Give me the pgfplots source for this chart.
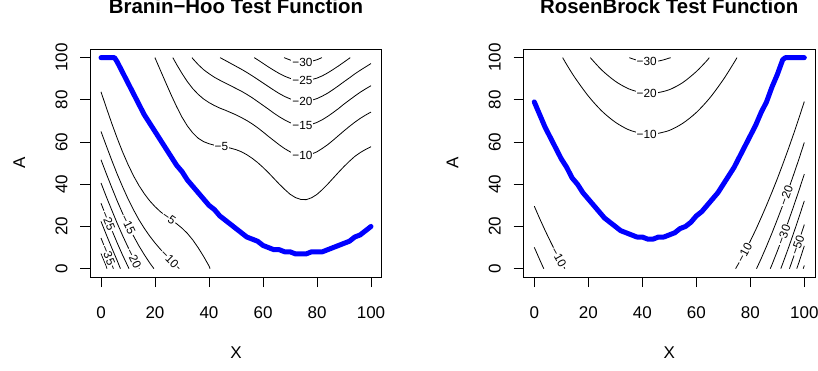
\documentclass[border=0pt]{standalone}
\usepackage{fontspec}
\setmainfont{Liberation Sans}
\usepackage{pgfplots}
\pgfplotsset{compat=1.18}
\newcommand{\lab}{\fontsize{11.8}{11.8}\selectfont}
\tikzset{ctl/.style={fill=white, inner sep=1pt, font=\lab}}
\pgfplotsset{
  rstyle/.style={
    scale only axis, width=291.6pt, height=227.9pt,
    xmin=-4, xmax=104, ymin=-4, ymax=104,
    xtick={0,20,40,60,80,100}, ytick={0,20,40,60,80,100},
    tick pos=left, tick align=outside, major tick length=10pt,
    tick style={black, line width=0.8pt},
    axis line style={line width=0.8pt},
    /pgf/number format/assume math mode=true,
    ticklabel style={font=\fontsize{17}{17}\selectfont},
    xticklabel style={anchor=base},
    yticklabel style={rotate=90, anchor=base},
    xticklabel shift=31.2pt, yticklabel shift=12.8pt,
    clip=false,
  },
  ct/.style={black, line width=0.8pt, mark=none},
  bl/.style={blue, line width=5pt, line cap=round, line join=round, mark=none},
}
\begin{document}
\begin{tikzpicture}
\useasboundingbox (0,0) rectangle (818pt,370pt);
% ---------------- Branin-Hoo ----------------
\begin{axis}[rstyle, at={(90.2pt,92.9pt)}, anchor=south west]
% upper contours
\addplot[ct] coordinates {(19.97,100)(22,94.0)(24,88.1)(26,82.3)(28,76.8)(30,71.8)(32,67.6)(34,64.3)(36,61.8)(38,60.2)(40,59.2)(42,58.5)(44,58.1)(46,57.7)(48,57.1)(50,56.4)(52,55.4)(54,54.0)(56,52.3)(58,50.3)(60,48.0)(62,45.5)(64,42.8)(66,40.1)(68,37.6)(70,35.3)(72,33.7)(74,32.8)(76,32.7)(78,33.6)(80,35.2)(82,37.5)(84,40.1)(86,42.9)(88,45.7)(90,48.4)(92,50.9)(94,53.2)(96,55.0)(98,56.5)(100,57.8)};
\addplot[ct] coordinates {(26.6,100)(28,96.8)(30,92.5)(32,88.6)(34,85.3)(36,82.6)(38,80.4)(40,78.7)(42,77.3)(44,76.1)(46,75.1)(48,74.0)(50,72.9)(52,71.6)(54,70.2)(56,68.6)(58,66.8)(60,64.8)(62,62.7)(64,60.7)(66,58.7)(68,56.9)(70,55.4)(72,54.3)(74,53.8)(76,53.8)(78,54.3)(80,55.4)(82,57.0)(84,58.8)(86,60.9)(88,63.1)(90,65.3)(92,67.4)(94,69.4)(96,71.2)(98,72.8)(100,74.2)};
\addplot[ct] coordinates {(33.7,100)(34,99.5)(36,96.7)(38,94.3)(40,92.4)(42,90.7)(44,89.3)(46,88.0)(48,86.7)(50,85.4)(52,84.1)(54,82.6)(56,81.0)(58,79.2)(60,77.4)(62,75.6)(64,73.7)(66,72.0)(68,70.5)(70,69.2)(72,68.4)(74,67.9)(76,67.9)(78,68.4)(80,69.3)(82,70.6)(84,72.2)(86,74.0)(88,75.9)(90,78.0)(92,79.9)(94,81.8)(96,83.6)(98,85.2)(100,86.7)};
\addplot[ct] coordinates {(44.1,100)(46,98.7)(48,97.3)(50,95.9)(52,94.5)(54,93.0)(56,91.4)(58,89.7)(60,88.0)(62,86.3)(64,84.6)(66,83.0)(68,81.6)(70,80.5)(72,79.7)(74,79.3)(76,79.3)(78,79.8)(80,80.6)(82,81.8)(84,83.2)(86,84.9)(88,86.7)(90,88.6)(92,90.4)(94,92.3)(96,94.0)(98,95.6)(100,97.2)};
\addplot[ct] coordinates {(56.75,100)(58,99.0)(60,97.3)(62,95.6)(64,94.0)(66,92.5)(68,91.2)(70,90.2)(72,89.5)(74,89.1)(76,89.1)(78,89.6)(80,90.3)(82,91.4)(84,92.8)(86,94.4)(88,96.1)(90,97.9)(92,99.7)(92.3,100)};
\addplot[ct] coordinates {(67.8,100)(70,98.9)(72,98.2)(74,97.9)(76,97.9)(78,98.3)(80,99.0)(81.8,100)};
% lower contours
\addplot[ct] coordinates {(0,83.8)(2,76.2)(4,68.8)(6,61.8)(8,55.3)(10,49.4)(12,44.1)(14,39.5)(16,35.6)(18,32.2)(20,29.4)(22,27.0)(24,25.0)(26,23.2)(28,21.3)(30,19.2)(32,16.7)(34,13.6)(36,9.9)(38,5.8)(40,1.3)(40.4,0)};
\addplot[ct] coordinates {(0,65.0)(2,58.1)(4,51.3)(6,44.8)(8,38.8)(10,33.1)(12,28.0)(14,23.3)(16,19.2)(18,15.5)(20,12.2)(22,9.2)(24,6.5)(26,3.9)(28,1.3)(29,0)};
\addplot[ct] coordinates {(0,51.6)(2,44.9)(4,38.4)(6,32.1)(8,26.2)(10,20.7)(12,15.6)(14,10.9)(16,6.7)(18,2.8)(19.6,0)};
\addplot[ct] coordinates {(0,40.6)(2,34.0)(4,27.7)(6,21.5)(8,15.7)(10,10.2)(12,5.1)(14,0.5)(14.2,0)};
\addplot[ct] coordinates {(0,31.0)(2,24.5)(4,18.3)(6,12.2)(8,6.4)(10,1.0)(10.35,0)};
\addplot[ct] coordinates {(0,22.4)(2,16.0)(4,9.8)(6,3.8)(7.2,0)};
\addplot[ct] coordinates {(0,14.5)(2,8.2)(4,2.0)(4.6,0)};
\addplot[ct] coordinates {(0,7.2)(2,1.0)(2.2,0)};
% labels
\node[ctl] at (axis cs:44.6,58.0) {−5};
\node[ctl] at (axis cs:74.6,53.8) {−10};
\node[ctl] at (axis cs:74.6,67.9) {−15};
\node[ctl] at (axis cs:74.6,79.3) {−20};
\node[ctl] at (axis cs:74.6,89.1) {−25};
\node[ctl] at (axis cs:74.6,97.9) {−30};
\node[ctl, rotate=-35] at (axis cs:25.2,23.9) {−5};
\node[ctl, rotate=-45] at (axis cs:25.4,4.7) {−10};
\node[ctl, rotate=-64] at (axis cs:10,20.7) {−15};
\node[ctl, rotate=-64] at (axis cs:12.1,4.8) {−20};
\node[ctl, rotate=-68] at (axis cs:2.6,22.6) {−25};
\node[ctl, rotate=-68] at (axis cs:2.6,6.3) {−35};
% argmax line
\addplot[bl] coordinates {(0,100)(2,100)(4,100)(5,100)(6,98)(8,93)(10,88)(12,83)(14,78)(16,73)(18,69)(20,65)(22,61)(24,57)(26,53)(28,49)(30,46)(32,42)(34,39)(36,36)(38,33)(40,30)(42,28)(44,25)(46,23)(48,21)(50,19)(52,17)(54,15)(56,14)(58,13)(60,11)(62,10)(64,9)(66,9)(68,8)(70,8)(72,7)(74,7)(76,7)(78,8)(80,8)(82,8)(84,9)(86,10)(88,11)(90,12)(92,13)(94,15)(96,16)(98,18)(100,20)};
\end{axis}
% ---------------- Rosenbrock ----------------
\begin{axis}[rstyle, at={(523.5pt,92.9pt)}, anchor=south west]
\addplot[ct, smooth] coordinates {(10.5,100)(12,96.7)(15,90.6)(20,81.8)(25,74.7)(30,69.4)(35,65.8)(40,64.0)(42.86,63.7)(45,63.9)(50,65.5)(55,68.9)(60,74.0)(65,80.9)(70,89.6)(74,97.7)(75.05,100)};
\addplot[ct, smooth] coordinates {(20.75,100)(25,94.1)(30,88.8)(35,85.2)(40,83.3)(42.86,83.0)(45,83.2)(50,84.8)(55,88.2)(60,93.4)(64,98.7)(64.8,100)};
\addplot[ct, smooth] coordinates {(35.2,100)(36,99.6)(38,98.8)(40,98.3)(42.86,98.0)(46,98.4)(48,99.0)(50,99.8)(50.5,100)};
\addplot[ct] coordinates {(0,29.6)(2,23.7)(4,18.1)(6,12.8)(8,7.7)(10,3.0)(11,0.7)(11.3,0)};
\addplot[ct] coordinates {(0,10.1)(2,4.25)(3,1.4)(3.5,0)};
\addplot[ct] coordinates {(74.55,0)(76,3.2)(78,8.0)(80,13.1)(82,18.4)(84,24.1)(86,30.0)(88,36.2)(90,42.6)(92,49.4)(94,56.4)(96,63.7)(98,71.3)(100,79.2)};
\addplot[ct] coordinates {(82.3,0)(84,4.7)(86,10.6)(88,16.8)(90,23.3)(92,30.0)(94,37.1)(96,44.4)(98,51.9)(100,59.8)};
\addplot[ct] coordinates {(87.4,0)(88,1.8)(90,8.3)(92,15.0)(94,22.1)(96,29.4)(98,37.0)(100,44.8)};
\addplot[ct] coordinates {(91.3,0)(92,2.4)(94,9.4)(96,16.7)(98,24.3)(100,32.1)};
\addplot[ct] coordinates {(94.5,0)(96,5.5)(98,13.1)(100,20.9)};
\addplot[ct] coordinates {(97.2,0)(98,2.9)(100,10.8)};
\addplot[ct] coordinates {(99.6,0)(100,1.5)};
\node[ctl] at (axis cs:41.6,63.7) {−10};
\node[ctl] at (axis cs:41.6,83.0) {−20};
\node[ctl] at (axis cs:41.6,98.0) {−30};
\node[ctl, rotate=-61] at (axis cs:9,5.3) {−10};
\node[ctl, rotate=62] at (axis cs:77.8,7.6) {−10};
\node[ctl, rotate=70] at (axis cs:93.3,34.6) {−20};
\node[ctl, rotate=70] at (axis cs:92.3,16.1) {−30};
\node[ctl, rotate=71] at (axis cs:97.5,11.2) {−50};
\addplot[bl] coordinates {(0,79)(2,73)(4,67)(6,62)(8,57)(10,52)(12,48)(14,43)(16,40)(18,36)(20,33)(22,30)(24,27)(26,24)(28,22)(30,20)(32,18)(34,17)(36,16)(38,15)(40,15)(42,14)(44,14)(46,15)(48,15)(50,16)(52,17)(54,19)(56,20)(58,22)(60,25)(62,27)(64,30)(66,33)(68,36)(70,40)(72,44)(74,48)(76,53)(78,58)(80,63)(82,68)(84,74)(86,79)(88,86)(90,92)(92,99)(93,100)(94,100)(96,100)(98,100)(100,100)};
\end{axis}
% titles and axis labels
\node[font=\fontsize{20.4}{20.4}\selectfont\bfseries, anchor=base] at (236pt,356.7pt) {Branin−Hoo Test Function};
\node[font=\fontsize{20.4}{20.4}\selectfont\bfseries, anchor=base] at (669.2pt,356.7pt) {RosenBrock Test Function};
\node[font=\fontsize{17}{17}\selectfont, anchor=base] at (236pt,11.7pt) {X};
\node[font=\fontsize{17}{17}\selectfont, anchor=base] at (669.2pt,11.7pt) {X};
\node[font=\fontsize{17}{17}\selectfont, anchor=base, rotate=90] at (25pt,206.85pt) {A};
\node[font=\fontsize{17}{17}\selectfont, anchor=base, rotate=90] at (458.3pt,206.85pt) {A};
\end{tikzpicture}
\end{document}
